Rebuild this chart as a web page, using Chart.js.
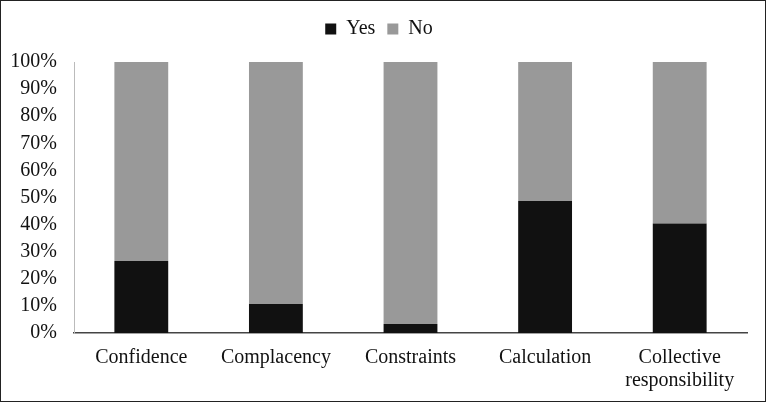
<!DOCTYPE html>
<html>
<head>
<meta charset="utf-8">
<script src="https://cdn.jsdelivr.net/npm/chart.js@4/dist/chart.umd.min.js"></script>
<style>
  html, body { margin: 0; padding: 0; background: #fff; }
  #wrap { width: 766px; height: 402px; box-sizing: border-box; border: 1px solid #222; position: relative; }
  #myChart { display: block; }
</style>
</head>
<body>
<div id="wrap"><canvas id="myChart" width="764" height="400"></canvas></div>
<script>
    'use strict';
    // categories and percentages
    const categories = ['Confidence', 'Complacency', 'Constraints', 'Calculation', ['Collective', 'responsibility']];
    const yes_values = [26.6, 10.7, 3.3, 48.7, 40.4];
    const no_values = yes_values.map(v => 100 - v);
    const series_names = ['Yes', 'No'];
    const tick_values = [0, 10, 20, 30, 40, 50, 60, 70, 80, 90, 100];

    const font_family = '"Liberation Serif", "Times New Roman", serif';

    // push the plot down a bit below the legend
    const legendSpacer = {
        id: 'legendSpacer',
        beforeInit(chart) {
            const fit = chart.legend.fit;
            chart.legend.fit = function() {
                fit.bind(chart.legend)();
                this.height += 13;
            };
        }
    };

    const ctx = document.getElementById('myChart');
    const myChart = new Chart(ctx, {
        type: 'bar',
        data: {
            labels: categories,
            datasets: [
                { label: series_names[0], data: yes_values, backgroundColor: '#111111', barPercentage: 0.4, categoryPercentage: 1.0 },
                { label: series_names[1], data: no_values, backgroundColor: '#999999', barPercentage: 0.4, categoryPercentage: 1.0 }
            ]
        },
        options: {
            responsive: false,
            animation: false,
            layout: { padding: { left: 10, right: 18, top: 6, bottom: 6 } },
            plugins: {
                legend: {
                    position: 'top',
                    labels: {
                        boxWidth: 11, boxHeight: 11, padding: 12,
                        color: '#111', font: { family: font_family, size: 20 }
                    }
                },
                tooltip: { enabled: false }
            },
            scales: {
                x: {
                    stacked: true,
                    afterFit: axis => { axis.height = 62; },
                    grid: { display: false, drawTicks: false },
                    border: { color: '#444', width: 1.5 },
                    ticks: { color: '#111', font: { family: font_family, size: 20, lineHeight: 1.15 }, padding: 13, maxRotation: 0, autoSkip: false }
                },
                y: {
                    stacked: true,
                    min: 0, max: 100,
                    afterBuildTicks: axis => { axis.ticks = tick_values.map(v => ({ value: v })); },
                    afterFit: axis => { axis.width = 63; },
                    grid: { display: false, drawTicks: false },
                    border: { color: '#bbb', width: 1 },
                    ticks: { color: '#111', font: { family: font_family, size: 20 }, padding: 17, autoSkip: false, callback: v => v + '%' }
                }
            }
        },
        plugins: [legendSpacer]
    });
</script>
</body>
</html>
